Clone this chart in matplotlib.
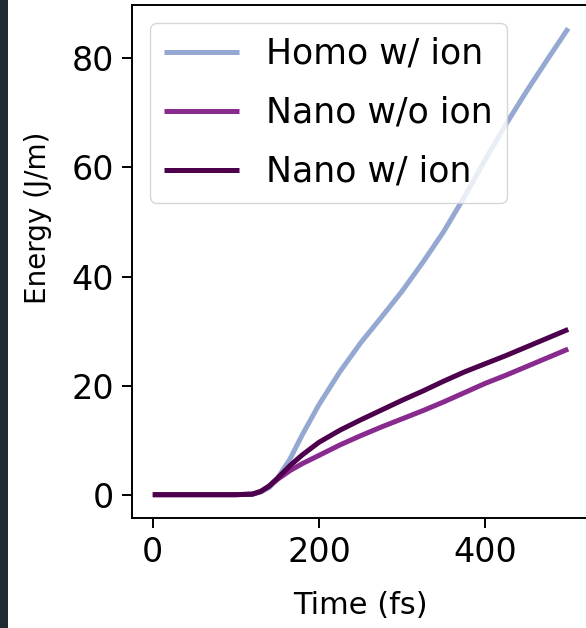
import matplotlib
matplotlib.use("Agg")
import matplotlib.pyplot as plt
from matplotlib.patches import Rectangle

plt.rcParams['font.family'] = ['DejaVu Sans']

time_fs = [0, 25, 50, 75, 100, 120, 130, 140, 150, 165, 180, 200, 225, 250, 275,
           300, 325, 350, 375, 400, 425, 450, 475, 500]
homo_w_ion = [0, 0, 0, 0, 0, 0.1, 0.5, 1.3, 3.0, 6.5, 11.0, 16.5, 22.5, 27.8, 32.5,
              37.3, 42.6, 48.2, 54.6, 61.4, 67.9, 74.0, 79.8, 85.5]
nano_wo_ion = [0, 0, 0, 0, 0, 0.1, 0.6, 1.5, 2.8, 4.4, 5.7, 7.2, 9.1, 10.8, 12.4,
               13.9, 15.4, 17.0, 18.7, 20.4, 21.9, 23.5, 25.1, 26.7]
nano_w_ion = [0, 0, 0, 0, 0, 0.1, 0.6, 1.6, 3.0, 5.3, 7.3, 9.6, 11.8, 13.7, 15.5,
              17.3, 19.0, 20.8, 22.5, 24.0, 25.5, 27.1, 28.7, 30.3]

labels = ["Homo w/ ion", "Nano w/o ion", "Nano w/ ion"]
colors = ["#94a8d2", "#882a8e", "#4d004b"]

fig = plt.figure(figsize=(5.86, 6.28), dpi=100)
fig.patches.append(Rectangle((0, 0), 8 / 586, 1, transform=fig.transFigure,
                             facecolor="#222a31", edgecolor="none", zorder=0))
ax = fig.add_axes([132 / 586, 1 - 518 / 628, (589 - 132) / 586, (518 - 5) / 628])

for y, lab, c in zip([homo_w_ion, nano_wo_ion, nano_w_ion], labels, colors):
    ax.plot(time_fs, y, color=c, lw=3.6, label=lab, solid_capstyle="butt")

ax.set_xticks([0, 200, 400])
ax.set_yticks([0, 20, 40, 60, 80])
ax.tick_params(labelsize=24, length=7, width=1.4, pad=6)
for s in ax.spines.values():
    s.set_linewidth(1.4)
ax.set_xlabel("Time (fs)", fontsize=22, labelpad=16)
ax.set_ylabel("Energy (J/m)", fontsize=20)
ax.yaxis.set_label_coords(-0.175, 0.585)

ax.legend(loc="upper left", fontsize=25, handlelength=2.15, handletextpad=0.8,
          borderaxespad=0.52, labelspacing=0.72)

fig.savefig("out.png", dpi=100)
